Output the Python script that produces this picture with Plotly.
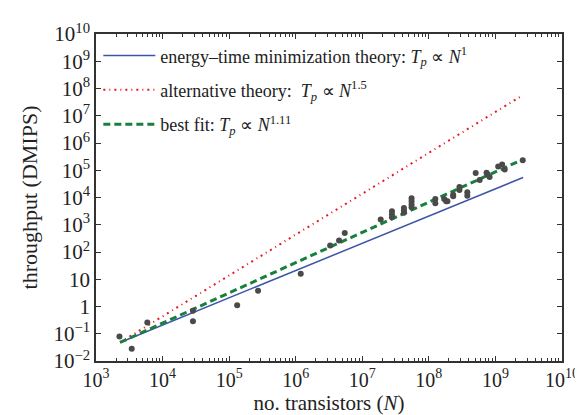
import plotly.graph_objects as go

# Measured data (no. transistors N, throughput T in DMIPS)
N_data = [2250, 3440, 5900, 28600, 28600, 132000, 272000, 1.19e6, 3.29e6, 4.48e6,
          5.45e6, 1.89e7, 2.79e7, 2.79e7, 2.79e7, 4.22e7, 4.22e7, 4.22e7, 5.5e7, 5.5e7,
          5.5e7, 5.5e7, 1.25e8, 1.25e8, 1.7e8, 1.82e8, 1.9e8, 2.32e8, 2.32e8, 2.88e8,
          2.88e8, 3.78e8, 3.78e8, 5.05e8, 5.8e8, 7.36e8, 7.6e8, 8.17e8, 1.1e9, 1.26e9,
          1.38e9, 2.57e9]
T_data = [0.079, 0.028, 0.26, 0.70, 0.29, 1.12, 3.8, 16, 174, 263,
          495, 1550, 1900, 2400, 3160, 2750, 3300, 4100, 4360, 5500,
          7240, 9330, 6170, 8900, 8900, 7240, 7240, 11000, 12600, 19000,
          24500, 11700, 15500, 79400, 43600, 81300, 69200, 56200, 138000, 162000,
          107000, 232000]

# Model lines T = T0 * (N / N0)^k
N_range = [2300, 2.6e9]
N0 = 2300
T0 = 0.048
exponents = [1.0, 1.5, 1.11]
names = ["energy\u2013time minimization theory: <i>T<sub>p</sub></i> \u221d <i>N</i><sup>1</sup>",
         "alternative theory:  <i>T<sub>p</sub></i> \u221d <i>N</i><sup>1.5</sup>",
         "best fit: <i>T<sub>p</sub></i> \u221d <i>N</i><sup>1.11</sup>"]
colors = ["#3b55a8", "#e8161e", "#17803c"]
dashes = ["solid", "2px,4px,1px,4px", "7px,4px"]
widths = [1.5, 2, 3]

x_ticks = [1e3, 1e4, 1e5, 1e6, 1e7, 1e8, 1e9, 1e10]
x_text = ["10<sup>3</sup>", "10<sup>4</sup>", "10<sup>5</sup>", "10<sup>6</sup>",
          "10<sup>7</sup>", "10<sup>8</sup>", "10<sup>9</sup>", "10<sup>10</sup>"]
y_ticks = [1e-2, 1e-1, 1, 10, 1e2, 1e3, 1e4, 1e5, 1e6, 1e7, 1e8, 1e9, 1e10]
y_text = ["10<sup>\u22122</sup>", "10<sup>\u22121</sup>", "1", "10", "10<sup>2</sup>",
          "10<sup>3</sup>", "10<sup>4</sup>", "10<sup>5</sup>", "10<sup>6</sup>",
          "10<sup>7</sup>", "10<sup>8</sup>", "10<sup>9</sup>", "10<sup>10</sup>"]

fig = go.Figure()
for k, nm, c, d, w in zip(exponents, names, colors, dashes, widths):
    ys = [T0 * (n / N0) ** k for n in N_range]
    fig.add_trace(go.Scatter(x=N_range, y=ys, mode="lines", name=nm,
                             legendgroup=nm,
                             line=dict(color=c, dash=d, width=w)))

fig.add_trace(go.Scatter(x=N_data, y=T_data, mode="markers", showlegend=False,
                         marker=dict(color="#4a4a4a", size=6)))

minor_x = [m * 10 ** e for e in range(3, 10) for m in range(2, 10)]

axis_common = dict(type="log", showgrid=False, zeroline=False, showline=True,
                   linecolor="#333", linewidth=1.5, mirror="ticks", ticks="inside",
                   tickcolor="#333", tickwidth=1, ticklen=5)

fig.update_xaxes(**axis_common, range=[3, 10], tickmode="array", tickvals=x_ticks,
                 ticktext=x_text,
                 tickfont=dict(family="Liberation Serif", size=20, color="#222"),
                 minor=dict(tickmode="array", tickvals=minor_x, ticks="inside",
                            ticklen=3, tickcolor="#333", tickwidth=1),
                 title=dict(text="no. transistors (<i>N</i>)", standoff=0,
                            font=dict(family="Liberation Serif", size=21, color="#222")))
fig.update_yaxes(**axis_common, range=[-2, 10], tickmode="array", tickvals=y_ticks,
                 ticktext=y_text,
                 tickfont=dict(family="Liberation Serif", size=21, color="#222"),
                 title=dict(text="throughput (DMIPS)", standoff=10,
                            font=dict(family="Liberation Serif", size=22, color="#222")))

fig.update_layout(
    width=583, height=415,
    margin=dict(l=88, r=24, t=19, b=62),
    plot_bgcolor="white", paper_bgcolor="white",
    font=dict(family="Liberation Serif", color="#222"),
    legend=dict(x=0.005, y=0.99, xanchor="left", yanchor="top",
                bgcolor="rgba(0,0,0,0)", itemwidth=52, tracegroupgap=8,
                font=dict(family="Liberation Serif", size=18, color="#222")),
)

fig.write_html("out.html")
